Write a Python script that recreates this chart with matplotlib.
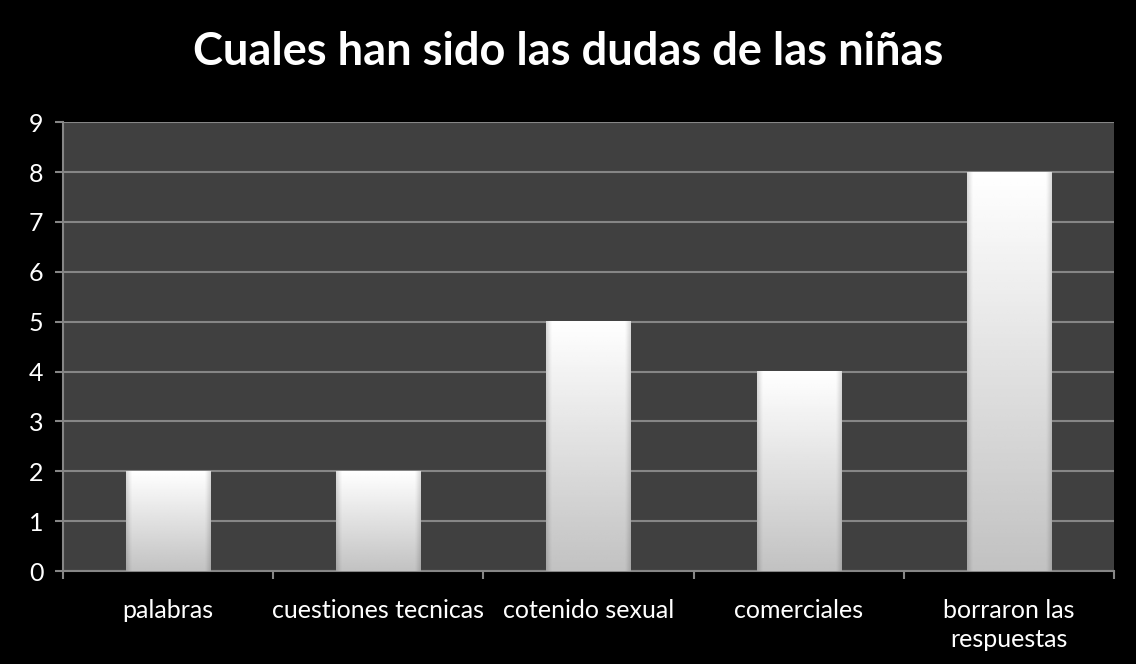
import matplotlib
matplotlib.use('Agg')
import matplotlib.pyplot as plt
import numpy as np

plt.rcParams['font.family'] = ['Lato', 'DejaVu Sans']

# data
categories = ['palabras', 'cuestiones tecnicas', 'cotenido sexual',
              'comerciales', 'borraron las\nrespuestas']
values = [2, 2, 5, 4, 8]
title = 'Cuales han sido las dudas de las niñas'

fig = plt.figure(figsize=(11.36, 6.64), dpi=100, facecolor='black')
ax = fig.add_axes([0.0555, 0.140, 0.925, 0.676])
ax.set_facecolor('#404040')

x = np.arange(len(categories))
bars = ax.bar(x, values, width=0.4, color='none', zorder=3)

# gradient fill for each bar
ny, nx = 100, 60
v = np.linspace(0.76, 1.0, ny)[:, None]   # bottom -> top
u = np.linspace(-1, 1, nx)[None, :]
edge = 1 - 0.14 * np.clip((np.abs(u) - 0.88) / 0.12, 0, 1)
img = v * edge
for b in bars:
    x0, w, h = b.get_x(), b.get_width(), b.get_height()
    ax.imshow(img, cmap='gray', vmin=0, vmax=1, origin='lower',
              extent=(x0, x0 + w, 0, h), aspect='auto', zorder=3,
              interpolation='bilinear')

ax.set_xlim(-0.5, len(categories) - 0.5)
ax.set_ylim(0, 9)
ax.set_yticks(range(0, 10))
ax.yaxis.grid(True, color='#868686', linewidth=1.5, zorder=1)
ax.set_axisbelow(True)

ax.set_xticks(x)
ax.set_xticklabels(categories, color='white', fontsize=18, linespacing=1.35)
ax.set_xticks(np.arange(-0.5, len(categories)), minor=True)
ax.tick_params(axis='x', which='major', length=0, pad=20)
ax.tick_params(axis='x', which='minor', length=6, width=1.5, color='#868686')
ax.tick_params(axis='y', length=6, width=1.5, color='#868686',
               labelcolor='white', labelsize=18, pad=8)

for s in ['top', 'right']:
    ax.spines[s].set_visible(False)
for s in ['left', 'bottom']:
    ax.spines[s].set_color('#868686')
    ax.spines[s].set_linewidth(1.5)

fig.text(0.5, 0.922, title, color='white', fontsize=32.5, fontweight='bold',
         ha='center', va='center')

fig.savefig('out.png', dpi=100, facecolor='black')
